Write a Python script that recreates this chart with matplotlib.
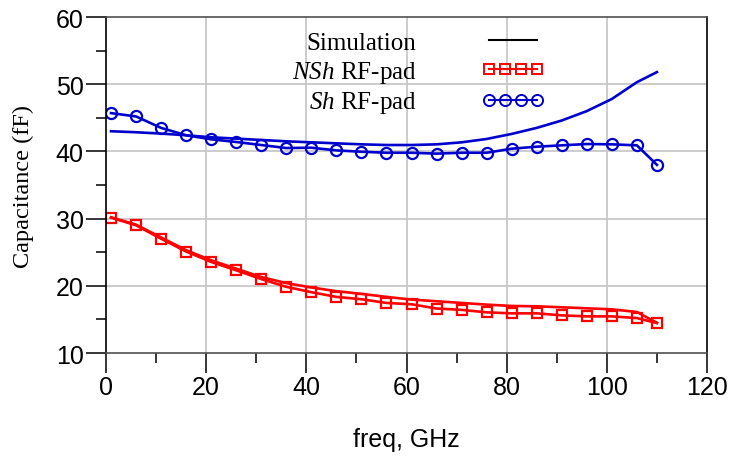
import matplotlib
matplotlib.use("Agg")
import matplotlib.pyplot as plt
from matplotlib.lines import Line2D
from matplotlib.ticker import MultipleLocator

plt.rcParams['font.family'] = ['Liberation Sans', 'DejaVu Sans']
plt.rcParams['mathtext.fontset'] = 'custom'
plt.rcParams['mathtext.it'] = 'Liberation Serif:italic'
plt.rcParams['mathtext.rm'] = 'Liberation Serif'

freq = [1, 6, 11, 16, 21, 26, 31, 36, 41, 46, 51, 56, 61, 66, 71, 76, 81, 86, 91,
        96, 101, 106, 110]

nsh_meas = [30.15, 29.0, 27.0, 25.1, 23.55, 22.3, 21.0, 19.85, 19.05, 18.35, 18.0,
            17.45, 17.25, 16.62, 16.42, 16.05, 15.9, 15.9, 15.6, 15.45, 15.45, 15.2, 14.45]
nsh_sim = [30.2, 29.1, 27.2, 25.3, 23.8, 22.55, 21.3, 20.4, 19.75, 19.2, 18.8,
           18.35, 17.95, 17.7, 17.45, 17.2, 17.0, 16.95, 16.8, 16.65, 16.5, 16.1, 14.5]

sh_meas = [45.7, 45.2, 43.5, 42.4, 41.8, 41.4, 40.95, 40.5, 40.55, 40.15, 39.95,
           39.8, 39.8, 39.67, 39.8, 39.8, 40.4, 40.7, 40.9, 41.1, 41.05, 40.9, 38.0]
sh_sim = [43.0, 42.85, 42.65, 42.4, 42.1, 41.9, 41.7, 41.5, 41.35, 41.2, 41.05,
          40.95, 40.95, 41.05, 41.35, 41.85, 42.6, 43.5, 44.6, 46.0, 47.8, 50.3, 51.8]

legend_labels = ['Simulation', r'$\mathit{NSh}$ RF-pad', r'$\mathit{Sh}$ RF-pad']
xlabel = 'freq, GHz'
ylabel = 'Capacitance (fF)'

RED = '#ff0000'
BLUE = '#0000cd'

fig = plt.figure(figsize=(7.34, 4.64), dpi=100)
ax = fig.add_axes([106/734, 1 - 354/464, (707-106)/734, (354-18)/464])

lw = 1.9
ax.plot(freq, nsh_sim, color=RED, lw=lw, zorder=3)
ax.plot(freq, nsh_meas, color=RED, lw=lw, marker='s', ms=7.5, mfc='none',
        mec=RED, mew=1.6, zorder=4)
ax.plot(freq, sh_sim, color=BLUE, lw=lw, zorder=3)
ax.plot(freq, sh_meas, color=BLUE, lw=lw, marker='o', ms=8, mfc='none',
        mec=BLUE, mew=1.6, zorder=4)

ax.set_xlim(0, 120)
ax.set_ylim(10, 60)
ax.xaxis.set_major_locator(MultipleLocator(20))
ax.xaxis.set_minor_locator(MultipleLocator(10))
ax.yaxis.set_major_locator(MultipleLocator(10))
ax.yaxis.set_minor_locator(MultipleLocator(5))

for v in [20, 40, 60, 80, 100]:
    ax.axvline(v, color='#c8c8c8', lw=1.3, zorder=1)
for v in [20, 30, 40, 50]:
    ax.axhline(v, color='#c8c8c8', lw=1.3, zorder=1)

ax.tick_params(which='both', direction='out', top=False, right=False, width=1.1,
               color='black')
ax.tick_params(which='major', length=14.5, labelsize=18, pad=1.5)
ax.tick_params(which='minor', length=7.5)

ax.spines['top'].set_color('#505050')
ax.spines['bottom'].set_color('#505050')
ax.spines['left'].set_color('black')
ax.spines['right'].set_color('black')
for s in ax.spines.values():
    s.set_linewidth(1.2)
    s.set_zorder(5)

ax.set_xlabel(xlabel, fontsize=18, labelpad=20)
ax.set_ylabel(ylabel, fontsize=17.5, family=['Liberation Serif'], labelpad=16)

handles = [
    Line2D([], [], color='black', lw=1.5),
    Line2D([], [], color=RED, lw=1.5, marker='s', ms=7.2, mfc='none', mec=RED, mew=1.4),
    Line2D([], [], color=BLUE, lw=1.5, marker='o', ms=8, mfc='none', mec=BLUE, mew=1.4),
]
leg = fig.legend(handles, legend_labels, loc='upper right',
                 bbox_to_anchor=(544/734, 1 - 32/464), bbox_transform=fig.transFigure,
                 frameon=False, markerfirst=False, numpoints=4,
                 prop={'family': 'Liberation Serif', 'size': 18},
                 handlelength=2.5, handletextpad=2.6, labelspacing=0.2,
                 borderpad=0, borderaxespad=0)

fig.savefig('out.png', dpi=100)
